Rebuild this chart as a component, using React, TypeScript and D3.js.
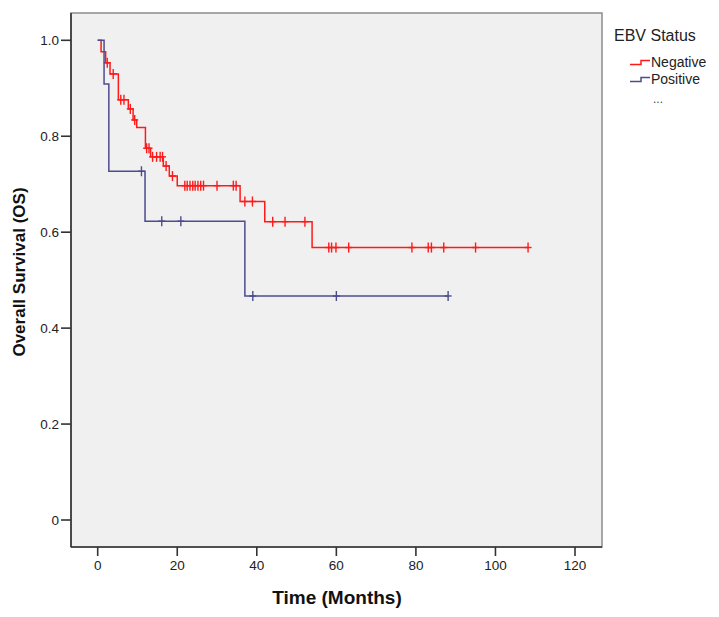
import React from 'react';
import * as d3 from 'd3';

// Kaplan-Meier steps: event times (months) and survival right after each event
const negEventTimes = [0.85, 2.0, 3.1, 5.2, 7.7, 8.9, 9.8, 12.0, 13.3, 16.5, 18.0, 20.0, 35.8, 42.0, 53.9];
const negSurvival = [0.976, 0.953, 0.93, 0.876, 0.857, 0.834, 0.818, 0.775, 0.757, 0.738, 0.717, 0.697, 0.664, 0.622, 0.568];
const negCensored = [
  2.4, 3.9, 5.8, 6.6, 8.2, 9.3, 12.3, 12.9, 13.8, 14.8, 15.7, 16.3, 17.2, 18.8,
  21.9, 22.5, 23.2, 23.9, 24.5, 25.2, 25.9, 26.6, 30.0, 34.1, 34.8, 37.0, 38.9,
  44.0, 47.1, 52.1, 58.1, 58.8, 59.9, 63.1, 79.0, 83.1, 83.9, 87.0, 95.0, 108.2,
];

const posEventTimes = [1.6, 2.8, 11.9, 37.0];
const posSurvival = [0.909, 0.727, 0.623, 0.467];
const posCensored = [11.0, 16.1, 20.9, 39.0, 60.0, 88.1];

const xTicks = [0, 20, 40, 60, 80, 100, 120];
const yTicks = [0, 0.2, 0.4, 0.6, 0.8, 1.0];
const yTickLabels = ['0', '0.2', '0.4', '0.6', '0.8', '1.0'];

const groups = [
  { name: 'Negative', color: '#ff1a1a', times: negEventTimes, surv: negSurvival, censored: negCensored },
  { name: 'Positive', color: '#4c4c8e', times: posEventTimes, surv: posSurvival, censored: posCensored },
];

const W = 719;
const H = 617;
const frame = { left: 71, top: 13, right: 602, bottom: 547 };
const font = '"Liberation Sans", Arial, sans-serif';

const x = d3.scaleLinear().domain([0, 120]).range([97.7, 575]);
const y = d3.scaleLinear().domain([0, 1]).range([520, 40.3]);

const survAt = (times: number[], surv: number[], t: number) => {
  let s = 1;
  times.forEach((et, i) => { if (et <= t) s = surv[i]; });
  return s;
};

const stepLine = d3.line<[number, number]>()
  .x(d => x(d[0]))
  .y(d => y(d[1]))
  .curve(d3.curveStepAfter);

const App: React.FC = () => {
  return (
    <svg width={W} height={H} style={{ position: 'absolute', left: 0, top: 0, background: '#fff' }}>
      <rect
        x={frame.left} y={frame.top}
        width={frame.right - frame.left} height={frame.bottom - frame.top}
        fill="#f0f0f0" stroke="#8c8c8c" strokeWidth={1.5}
      />

      {groups.map(g => {
        const end = Math.max(d3.max(g.censored) ?? 0, d3.max(g.times) ?? 0);
        const pts: [number, number][] = [[0, 1], ...g.times.map((t, i) => [t, g.surv[i]] as [number, number])];
        pts.push([end, g.surv[g.surv.length - 1]]);
        return (
          <g key={g.name}>
            <path d={stepLine(pts) ?? ''} fill="none" stroke={g.color} strokeWidth={1.5} />
            {g.censored.map((c, i) => {
              const cx = x(c);
              const cy = y(survAt(g.times, g.surv, c));
              return (
                <g key={i} stroke={g.color} strokeWidth={1.4}>
                  <line x1={cx} x2={cx} y1={cy - 5} y2={cy + 5} />
                  <line x1={cx - 3.5} x2={cx + 3.5} y1={cy} y2={cy} />
                </g>
              );
            })}
          </g>
        );
      })}

      {/* axes */}
      <line x1={frame.left} x2={frame.left} y1={frame.top} y2={frame.bottom} stroke="#333" strokeWidth={1.6} />
      <line x1={frame.left} x2={frame.right} y1={frame.bottom} y2={frame.bottom} stroke="#333" strokeWidth={1.6} />

      {yTicks.map((v, i) => (
        <g key={v}>
          <line x1={frame.left - 10} x2={frame.left} y1={y(v)} y2={y(v)} stroke="#333" strokeWidth={1.6} />
          <text x={frame.left - 12} y={y(v) + 5} textAnchor="end" fontFamily={font} fontSize={13.5} fill="#222">
            {yTickLabels[i]}
          </text>
        </g>
      ))}

      {xTicks.map(v => (
        <g key={v}>
          <line x1={x(v)} x2={x(v)} y1={frame.bottom} y2={frame.bottom + 9} stroke="#333" strokeWidth={1.6} />
          <text x={x(v)} y={frame.bottom + 23} textAnchor="middle" fontFamily={font} fontSize={13.5} fill="#222">
            {v}
          </text>
        </g>
      ))}

      <text x={337} y={604} textAnchor="middle" fontFamily={font} fontSize={19} fontWeight="bold" fill="#111">
        Time (Months)
      </text>
      <text
        transform={`translate(25, 272) rotate(-90)`}
        textAnchor="middle" fontFamily={font} fontSize={17} fontWeight="bold" fill="#111"
      >
        Overall Survival (OS)
      </text>

      {/* legend */}
      <text x={614} y={41} fontFamily={font} fontSize={16} fill="#222">EBV Status</text>
      {groups.map((g, i) => {
        const ly = 63 + i * 17;
        return (
          <g key={g.name}>
            <path
              d={`M${630},${ly + 1.5}H${641}V${ly - 2.5}H${650}`}
              fill="none" stroke={g.color} strokeWidth={1.5}
            />
            <text x={651} y={ly + 4} fontFamily={font} fontSize={14} fill="#222">{g.name}</text>
          </g>
        );
      })}
      <text x={653} y={103} fontFamily={font} fontSize={12} fill="#444">...</text>
    </svg>
  );
};

export default App;
